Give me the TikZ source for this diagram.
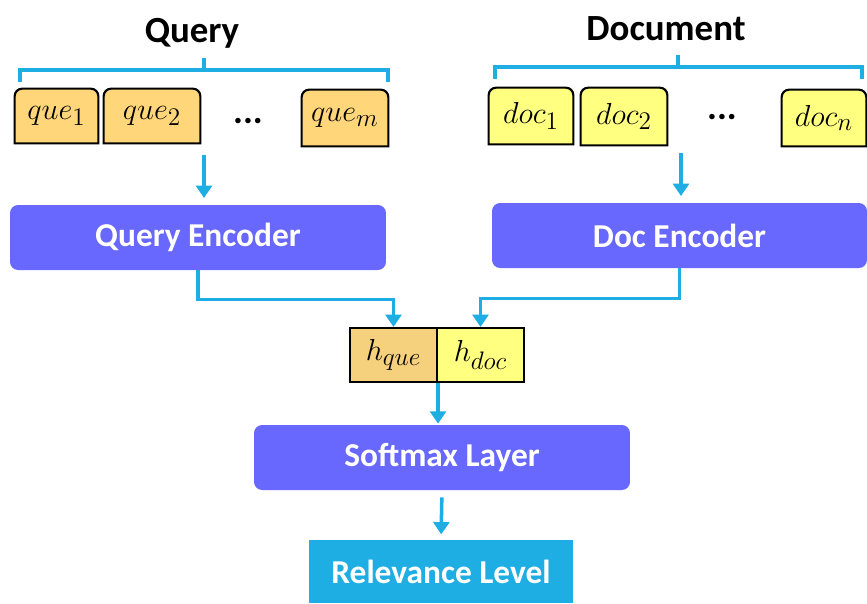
\documentclass[tikz,border=0pt]{standalone}
\usepackage{amsmath}
\usepackage{fontspec}
\setmainfont{Carlito}
\usepackage{tikz}
\usetikzlibrary{calc,arrows.meta,backgrounds}

\definecolor{enccol}{RGB}{104,104,255}
\definecolor{relcol}{RGB}{30,174,228}
\definecolor{quecol}{RGB}{255,214,122}
\definecolor{hquecol}{RGB}{245,208,125}
\definecolor{doccol}{RGB}{255,255,128}

\begin{document}
\begin{tikzpicture}[x=0.02cm, y=-0.02cm,
    tok/.style = {minimum height=1.08cm, inner sep=0pt, font=\fontsize{19}{22}\selectfont},
    enc/.style = {rectangle, rounded corners=0.16cm, fill=enccol, text=white,
                  minimum width=7.52cm, minimum height=1.3cm, font=\fontsize{19}{22}\selectfont\bfseries},
    hbox/.style = {rectangle, draw, line width=1.2pt, minimum width=1.74cm, minimum height=1.08cm,
                   inner sep=0pt, font=\fontsize{19}{22}\selectfont},
    title/.style = {font=\fontsize{21}{24}\selectfont\bfseries},
    arr/.style = {draw=relcol, line width=2pt, -{Triangle[width=9pt,length=7pt]}},
    brace/.style = {draw=relcol, line width=2pt}]
  \useasboundingbox (0,0) rectangle (867,603);

  % inputs
  \node[title] (qt) at (192,33) {Query};
  \node[title] (dt) at (666,29) {Document};

  \node[tok, minimum width=1.66cm] (q1) at (56.5,116) {$que_1$};
  \node[tok, minimum width=1.92cm] (q2) at (152,116) {$que_2$};
  \node[title] (qdots) at (248,121) {...};
  \node[tok, minimum width=1.72cm, minimum height=1.12cm] (qm) at (345,118) {$que_m$};

  \node[tok, minimum width=1.68cm, minimum height=1.12cm] (d1) at (531,116) {$doc_1$};
  \node[tok, minimum width=1.72cm, minimum height=1.14cm] (d2) at (624,116.5) {$doc_2$};
  \node[title] (ddots) at (722,117) {...};
  \node[tok, minimum width=1.68cm, minimum height=1.12cm] (dn) at (824,118) {$doc_n$};

  \begin{scope}[on background layer]
    \foreach \n/\c in {q1/quecol, q2/quecol, qm/quecol, d1/doccol, d2/doccol, dn/doccol}
      \filldraw[fill=\c, line width=1.2pt] (\n.south west) [rounded corners=0.15cm] -- (\n.north west)
        -- (\n.north east) [sharp corners] -- (\n.south east) -- cycle;
  \end{scope}

  % braces
  \draw[brace] (20,82) -- (20,70) -- (388,70) -- (388,82);
  \draw[brace] (204,70) -- (204,58);
  \draw[brace] (495,79) -- (495,67) -- (862,67) -- (862,79);
  \draw[brace] (678,67) -- (678,55);

  % encoders
  \node[enc] (qe) at (198,237.5) {Query Encoder};
  \node[enc, minimum width=7.5cm] (de) at (679.5,235.5) {Doc Encoder};

  \coordinate (qin) at (204,155);
  \coordinate (din) at (681,153);
  \draw[arr] (qin) -- (qin |- 0,198);
  \draw[arr] (din) -- (din |- 0,196);

  % hidden vectors
  \node[hbox, fill=hquecol] (hq) at (393.5,355) {$h_{que}$};
  \node[hbox, fill=doccol] (hd) at (480.5,355) {$h_{doc}$};

  \draw[arr] (qe.south) -- ++(0,29) -| (hq.north);
  \draw[arr] (de.south) -- ++(0,30) -| (hd.north);

  % output
  \node[enc] (sm) at (442,457.5) {Softmax Layer};
  \node[rectangle, fill=relcol, text=white, minimum width=5.28cm, minimum height=1.26cm,
        font=\fontsize{19}{22}\selectfont\bfseries] (rl) at (441,571.5) {Relevance Level};

  \draw[arr] (hq.south east) -- ($(hq.south east |- sm.north)+(0,-1)$);
  \draw[arr, shorten <=4pt, shorten >=3pt] (sm.south) -- (rl.north);
\end{tikzpicture}
\end{document}
